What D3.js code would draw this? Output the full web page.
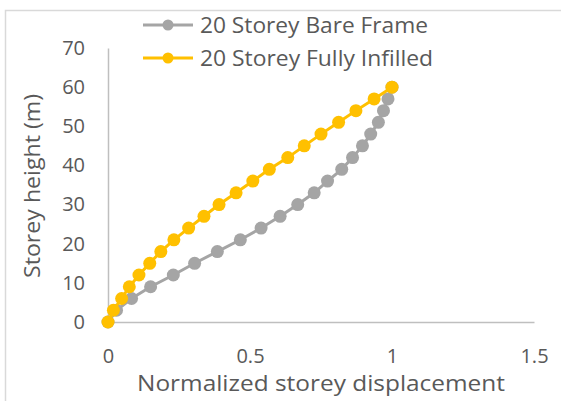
<!DOCTYPE html>
<html>
<head>
<meta charset="utf-8">
<script src="https://cdn.jsdelivr.net/npm/d3@7"></script>
<style>
  body { margin: 0; background: #fff; }
  svg text { font-family: "Open Sans", "Noto Sans", sans-serif; fill: #595959; }
</style>
</head>
<body>
<svg id="chart"></svg>
<script>
// storey heights (m)
const heights = [0, 3, 6, 9, 12, 15, 18, 21, 24, 27, 30, 33, 36, 39, 42, 45, 48, 51, 54, 57, 60];
// normalized displacement
const bareFrame = [0, 0.03, 0.083, 0.15, 0.23, 0.305, 0.385, 0.466, 0.539, 0.606, 0.668,
                   0.726, 0.773, 0.823, 0.861, 0.896, 0.925, 0.952, 0.97, 0.986, 1.0];
const fullyInfilled = [0, 0.019, 0.048, 0.075, 0.109, 0.147, 0.186, 0.232, 0.284, 0.338, 0.391,
                       0.451, 0.51, 0.568, 0.633, 0.691, 0.75, 0.812, 0.873, 0.937, 1.0];
const seriesNames = ['20 Storey Bare Frame', '20 Storey Fully Infilled'];
const seriesColors = ['#A5A5A5', '#FFC000'];
const xTicks = [0, 0.5, 1, 1.5];
const yTicks = [0, 10, 20, 30, 40, 50, 60, 70];

const width = 561, height = 401;
const margin = {top: 48, right: 27, bottom: 79, left: 108};
const innerW = width - margin.left - margin.right;
const innerH = height - margin.top - margin.bottom;

const svg = d3.select('#chart')
    .attr('width', width)
    .attr('height', height);

// chart frame
svg.append('rect')
    .attr('x', 5.5).attr('y', 10.5)
    .attr('width', 570).attr('height', 410)
    .attr('fill', '#fff')
    .attr('stroke', '#D9D9D9')
    .attr('stroke-width', 1.5);

const chart = svg.append('g')
    .attr('transform', `translate(${margin.left},${margin.top})`);

const xScale = d3.scaleLinear().domain([0, 1.5]).range([0, innerW]);
const yScale = d3.scaleLinear().domain([0, 70]).range([innerH, 0]);

const xAxis = d3.axisBottom(xScale)
    .tickValues(xTicks)
    .tickFormat(d3.format('~g'))
    .tickSize(0)
    .tickPadding(27);

const yAxis = d3.axisLeft(yScale)
    .tickValues(yTicks)
    .tickSize(0)
    .tickPadding(23);

const xAxisG = chart.append('g')
    .attr('transform', `translate(0,${innerH})`)
    .call(xAxis);
const yAxisG = chart.append('g').call(yAxis);

[xAxisG, yAxisG].forEach(g => {
  g.select('.domain').attr('stroke', '#BFBFBF').attr('stroke-width', 1.5);
  g.selectAll('text')
      .attr('fill', '#595959')
      .style('font-size', '20px')
      .style('font-family', '"Open Sans", "Noto Sans", sans-serif');
});

// axis titles
chart.append('text')
    .attr('x', 321 - margin.left)
    .attr('y', 391 - margin.top)
    .attr('text-anchor', 'middle')
    .attr('textLength', 368)
    .attr('lengthAdjust', 'spacingAndGlyphs')
    .style('font-size', '22px')
    .text('Normalized storey displacement');

chart.append('text')
    .attr('transform', `translate(${40 - margin.left},${186 - margin.top}) rotate(-90)`)
    .attr('text-anchor', 'middle')
    .attr('textLength', 184)
    .attr('lengthAdjust', 'spacingAndGlyphs')
    .style('font-size', '22px')
    .text('Storey height (m)');

// series
const seriesData = [bareFrame, fullyInfilled];
const line = d3.line()
    .x(d => xScale(d.x))
    .y(d => yScale(d.y));

seriesData.forEach((vals, i) => {
  const pts = vals.map((v, j) => ({x: v, y: heights[j]}));
  chart.append('path')
      .datum(pts)
      .attr('fill', 'none')
      .attr('stroke', seriesColors[i])
      .attr('stroke-width', 3)
      .attr('d', line);
  chart.selectAll(`.pt-${i}`)
      .data(pts)
      .join('circle')
      .attr('class', `pt-${i}`)
      .attr('cx', d => xScale(d.x))
      .attr('cy', d => yScale(d.y))
      .attr('r', 6.5)
      .attr('fill', seriesColors[i]);
});

// legend
const legend = svg.append('g');
seriesNames.forEach((name, i) => {
  const ly = 25 + i * 33;
  legend.append('line')
      .attr('x1', 143).attr('x2', 193)
      .attr('y1', ly).attr('y2', ly)
      .attr('stroke', seriesColors[i])
      .attr('stroke-width', 3);
  legend.append('circle')
      .attr('cx', 168).attr('cy', ly)
      .attr('r', 5.5)
      .attr('fill', seriesColors[i]);
  legend.append('text')
      .attr('x', 200).attr('y', ly + 8)
      .attr('textLength', i === 0 ? 228 : 233)
      .attr('lengthAdjust', 'spacingAndGlyphs')
      .style('font-size', '22px')
      .text(name);
});
</script>
</body>
</html>
